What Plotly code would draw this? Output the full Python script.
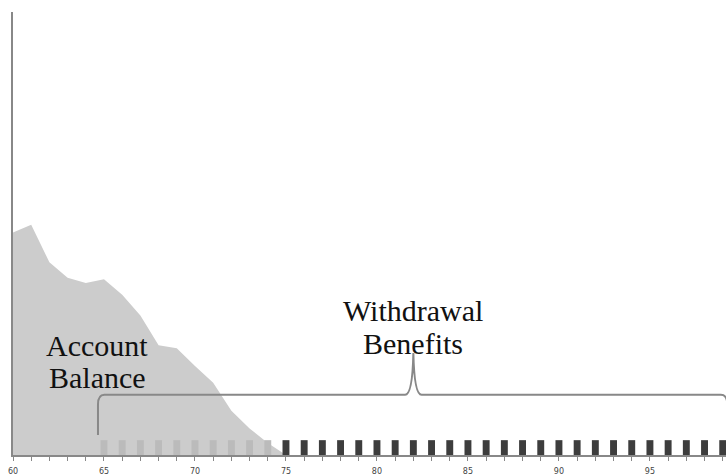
import plotly.graph_objects as go

# ---- data ----
balance_years = [60, 61, 62, 63, 64, 65, 66, 67, 68, 69, 70, 71, 72, 73, 74, 75]
balance_values = [50.2, 52.0, 43.5, 40.0, 38.8, 39.7, 36.2, 31.5, 24.8, 24.1, 20.1, 16.3, 10.0, 6.0, 2.7, 0.0]

funded_years = list(range(65, 75))
funded_values = [3.35] * len(funded_years)

benefit_years = list(range(75, 100))
benefit_values = [3.35] * len(benefit_years)

tick_values = [60, 65, 70, 75, 80, 85, 90, 95]
tick_labels = ["60", "65", "70", "75", "80", "85", "90", "95"]

label_balance = ["Account", "Balance"]
label_benefits = ["Withdrawal", "Benefits"]

# ---- figure ----
fig = go.Figure()

fig.add_trace(go.Scatter(
    x=balance_years, y=balance_values, mode="lines",
    line=dict(width=0, color="#cccccc"), fill="tozeroy", fillcolor="#cccccc",
    hoverinfo="skip", showlegend=False,
))
fig.add_trace(go.Bar(
    x=funded_years, y=funded_values, width=0.38, yaxis="y2",
    marker=dict(color="#bbbbbb", line=dict(width=0)), showlegend=False,
))
fig.add_trace(go.Bar(
    x=benefit_years, y=benefit_values, width=0.38, yaxis="y2",
    marker=dict(color="#3d3d3d", line=dict(width=0)), showlegend=False,
))

# curly brace (data coordinates)
bl, bm, br = 64.67, 82.0, 99.25
by, btip, bend = 13.6, 23.0, 4.5
path = (
    f"M {bl} {bend} L {bl} {by-2.2} Q {bl} {by} {bl+0.35} {by} "
    f"L {bm-0.45} {by} Q {bm-0.05} {by} {bm} {btip} "
    f"Q {bm+0.05} {by} {bm+0.45} {by} "
    f"L {br-0.35} {by} Q {br} {by} {br} {by-2.2} L {br} {bend}"
)
fig.add_shape(type="path", path=path, xref="x", yref="y",
              line=dict(color="#888888", width=2))

serif = dict(family="Liberation Serif", size=30, color="#111111")
for txt, yv in zip(label_balance, [24.8, 17.6]):
    fig.add_annotation(x=64.64, y=yv, text=txt, showarrow=False,
                       xanchor="center", yanchor="middle", font=serif)
for txt, yv in zip(label_benefits, [32.6, 25.2]):
    fig.add_annotation(x=82.0, y=yv, text=txt, showarrow=False,
                       xanchor="center", yanchor="middle", font=serif)

fig.update_layout(
    width=726, height=476,
    margin=dict(l=13, r=0, t=12, b=16),
    paper_bgcolor="white", plot_bgcolor="white",
    barmode="overlay", showlegend=False,
    yaxis=dict(range=[0, 100], showgrid=False, zeroline=False,
               showline=True, linecolor="#888888", linewidth=1.5,
               showticklabels=False, ticks=""),
    yaxis2=dict(overlaying="y", range=[0, 100], visible=False,
                showgrid=False, zeroline=False),
    xaxis=dict(
        range=[60, 99.18], showgrid=False, zeroline=False,
        showline=True, linecolor="#888888", linewidth=1.5,
        tickmode="array", tickvals=tick_values, ticktext=tick_labels,
        ticks="outside", ticklen=4, tickcolor="#888888", tickwidth=1,
        tickfont=dict(family="DejaVu Sans", size=8, color="#444444"),
        ticklabelstandoff=4,
        minor=dict(dtick=1, tick0=60, ticks="outside", ticklen=4,
                   tickcolor="#888888", tickwidth=1, showgrid=False),
    ),
)

fig.write_html(
    "out.html",
    config={"displayModeBar": False},
    post_script="document.body.style.margin='0';document.body.style.overflow='hidden';",
)
